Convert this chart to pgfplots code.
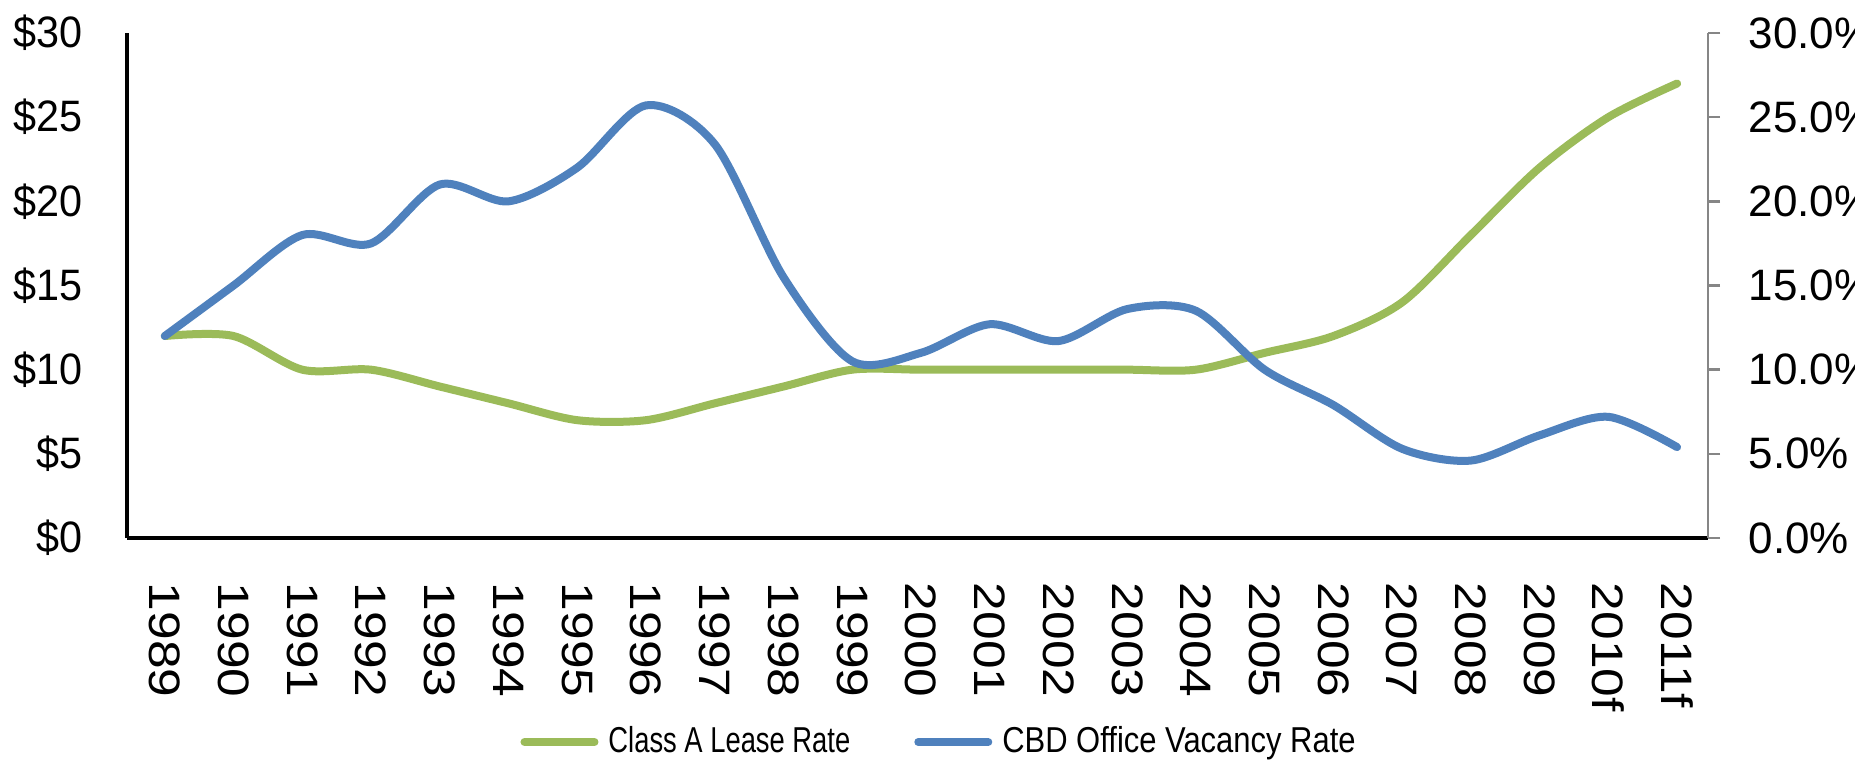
\documentclass[border=0pt]{standalone}
\usepackage{pgfplots}
\pgfplotsset{compat=1.18}
\usepackage{fontspec}
\setmainfont{Liberation Sans}
\definecolor{lgreen}{HTML}{9BBB59}
\definecolor{lblue}{HTML}{4F81BD}
\definecolor{axgray}{HTML}{868686}
\begin{document}
\begin{tikzpicture}
\begin{axis}[
  scale only axis, width=395.25pt, height=126.25pt,
  xmin=-0.55, xmax=22.45, ymin=0, ymax=30,
  axis x line=bottom, axis y line=left,
  axis line style={black, line width=0.8pt, -},
  xtick={0,...,22},
  xticklabels={1989,1990,1991,1992,1993,1994,1995,1996,1997,1998,1999,2000,2001,2002,2003,2004,2005,2006,2007,2008,2009,2010f,2011f},
  ytick={0,5,10,15,20,25,30},
  yticklabels={\$0,\$5,\$10,\$15,\$20,\$25,\$30},
  major tick length=0pt,
  tick label style={font=\fontsize{11}{13}\selectfont, inner sep=0pt},
  xticklabel style={rotate=-90, anchor=west, xscale=1.17},
  yticklabel style={xscale=0.94},
  xticklabel shift=11pt,
  yticklabel shift=11pt,
]
\addplot[lgreen, line width=2pt, smooth, line cap=round] coordinates {
(0,12) (1,12) (2,10) (3,10) (4,9) (5,8) (6,7) (7,7) (8,8) (9,9) (10,10) (11,10)
(12,10) (13,10) (14,10) (15,10) (16,11) (17,12) (18,14) (19,18) (20,22) (21,25) (22,27)
};
\end{axis}
\begin{axis}[
  scale only axis, width=395.25pt, height=126.25pt,
  xmin=-0.55, xmax=22.45, ymin=0, ymax=30,
  axis y line=right, axis x line=none,
  y axis line style={axgray, line width=0.6pt, -},
  ytick={0,5,10,15,20,25,30},
  yticklabels={0.0\%,5.0\%,10.0\%,15.0\%,20.0\%,25.0\%,30.0\%},
  ytick style={axgray, line width=0.6pt},
  tick align=outside, major tick length=3pt,
  yticklabel style={font=\fontsize{11}{13}\selectfont, inner sep=0pt},
  yticklabel shift=7pt,
  legend style={at={(0.513,0)}, anchor=center, yshift=-51pt, draw=none, fill=none,
    legend columns=2, font=\fontsize{9}{10}\selectfont, inner sep=0pt,
    nodes={inner sep=0pt},
    /tikz/every odd column/.append style={column sep=2.5pt},
    /tikz/every even column/.append style={column sep=16pt}},
  legend image code/.code={\draw[#1, line width=2pt, line cap=round] (0pt,0pt) -- (17.5pt,0pt);},
]
\addlegendimage{lgreen}
\addlegendentry{\scalebox{0.76}[1]{Class A Lease Rate}}
\addplot[lblue, line width=2pt, smooth, line cap=round] coordinates {
(0,12) (1,15) (2,18) (3,17.5) (4,21) (5,20) (6,22) (7,25.7) (8,23.4) (9,15.5) (10,10.5) (11,11)
(12,12.7) (13,11.7) (14,13.6) (15,13.5) (16,10) (17,7.9) (18,5.3) (19,4.6) (20,6.1) (21,7.2) (22,5.4)
};
\addlegendentry{\scalebox{0.86}[1]{CBD Office Vacancy Rate}}
\end{axis}
\pgfresetboundingbox
\path[use as bounding box] (-31.75pt,-56.5pt) rectangle (432pt,134.5pt);
\end{tikzpicture}
\end{document}
